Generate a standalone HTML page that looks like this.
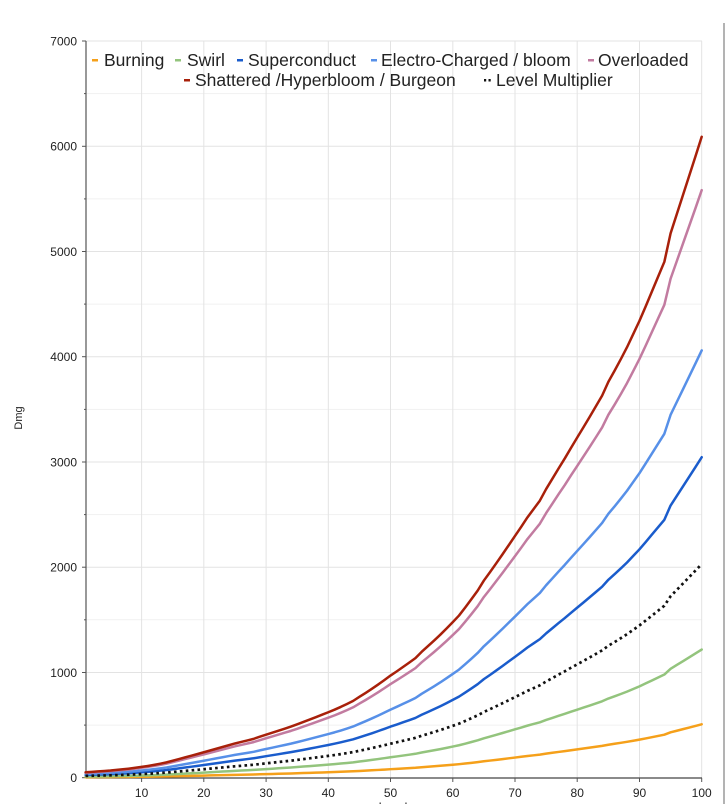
<!DOCTYPE html>
<html>
<head>
<meta charset="utf-8">
<style>
html,body{margin:0;padding:0;background:#fff;}
svg{display:block;}
text{font-family:"Liberation Sans",Arial,sans-serif;}
</style>
</head>
<body>
<svg width="725" height="804" viewBox="0 0 725 804" xmlns="http://www.w3.org/2000/svg">
<rect x="0" y="0" width="725" height="804" fill="#fff"/>
<line x1="724" y1="23" x2="724" y2="804" stroke="#9a9a9a" stroke-width="1.5"/>

<g stroke="#f1f1f1" stroke-width="1">
<line x1="86" x2="702" y1="725.1" y2="725.1"/>
<line x1="86" x2="702" y1="619.8" y2="619.8"/>
<line x1="86" x2="702" y1="514.6" y2="514.6"/>
<line x1="86" x2="702" y1="409.4" y2="409.4"/>
<line x1="86" x2="702" y1="304.1" y2="304.1"/>
<line x1="86" x2="702" y1="198.9" y2="198.9"/>
<line x1="86" x2="702" y1="93.6" y2="93.6"/>
</g>
<g stroke="#e3e3e3" stroke-width="1">
<line x1="86" x2="702" y1="672.5" y2="672.5"/>
<line x1="86" x2="702" y1="567.2" y2="567.2"/>
<line x1="86" x2="702" y1="462" y2="462"/>
<line x1="86" x2="702" y1="356.7" y2="356.7"/>
<line x1="86" x2="702" y1="251.5" y2="251.5"/>
<line x1="86" x2="702" y1="146.3" y2="146.3"/>
<line x1="86" x2="702" y1="41" y2="41"/>
</g>
<g stroke="#e3e3e3" stroke-width="1">
<line y1="41" y2="778" x1="141.6" x2="141.6"/>
<line y1="41" y2="778" x1="203.8" x2="203.8"/>
<line y1="41" y2="778" x1="266.1" x2="266.1"/>
<line y1="41" y2="778" x1="328.3" x2="328.3"/>
<line y1="41" y2="778" x1="390.5" x2="390.5"/>
<line y1="41" y2="778" x1="452.8" x2="452.8"/>
<line y1="41" y2="778" x1="515" x2="515"/>
<line y1="41" y2="778" x1="577.2" x2="577.2"/>
<line y1="41" y2="778" x1="639.5" x2="639.5"/>
<line y1="41" y2="778" x1="701.7" x2="701.7"/>
</g>

<line x1="86" y1="41" x2="86" y2="778" stroke="#555" stroke-width="1.2"/>
<line x1="86" y1="778" x2="702" y2="778" stroke="#444" stroke-width="1.2"/>
<g stroke="#555" stroke-width="1">
<line x1="82" x2="86" y1="777.7" y2="777.7"/>
<line x1="82" x2="86" y1="672.5" y2="672.5"/>
<line x1="82" x2="86" y1="567.2" y2="567.2"/>
<line x1="82" x2="86" y1="462" y2="462"/>
<line x1="82" x2="86" y1="356.7" y2="356.7"/>
<line x1="82" x2="86" y1="251.5" y2="251.5"/>
<line x1="82" x2="86" y1="146.3" y2="146.3"/>
<line x1="82" x2="86" y1="41" y2="41"/>
<line x1="84" x2="86" y1="725.1" y2="725.1"/>
<line x1="84" x2="86" y1="619.8" y2="619.8"/>
<line x1="84" x2="86" y1="514.6" y2="514.6"/>
<line x1="84" x2="86" y1="409.4" y2="409.4"/>
<line x1="84" x2="86" y1="304.1" y2="304.1"/>
<line x1="84" x2="86" y1="198.9" y2="198.9"/>
<line x1="84" x2="86" y1="93.6" y2="93.6"/>
</g>
<g stroke="#555" stroke-width="1">
<line y1="778" y2="782" x1="141.6" x2="141.6"/>
<line y1="778" y2="782" x1="203.8" x2="203.8"/>
<line y1="778" y2="782" x1="266.1" x2="266.1"/>
<line y1="778" y2="782" x1="328.3" x2="328.3"/>
<line y1="778" y2="782" x1="390.5" x2="390.5"/>
<line y1="778" y2="782" x1="452.8" x2="452.8"/>
<line y1="778" y2="782" x1="515" x2="515"/>
<line y1="778" y2="782" x1="577.2" x2="577.2"/>
<line y1="778" y2="782" x1="639.5" x2="639.5"/>
<line y1="778" y2="782" x1="701.7" x2="701.7"/>
</g>

<g font-size="12" fill="#222" text-anchor="end">
<text x="77" y="782">0</text>
<text x="77" y="677">1000</text>
<text x="77" y="571.5">2000</text>
<text x="77" y="466.5">3000</text>
<text x="77" y="361">4000</text>
<text x="77" y="256">5000</text>
<text x="77" y="150.5">6000</text>
<text x="77" y="45.5">7000</text>
</g>
<g font-size="12" fill="#222" text-anchor="middle">
<text x="141.6" y="797">10</text>
<text x="203.8" y="797">20</text>
<text x="266.1" y="797">30</text>
<text x="328.3" y="797">40</text>
<text x="390.5" y="797">50</text>
<text x="452.8" y="797">60</text>
<text x="515" y="797">70</text>
<text x="577.2" y="797">80</text>
<text x="639.5" y="797">90</text>
<text x="701.7" y="797">100</text>
</g>
<text x="393" y="811" font-size="12" fill="#222" text-anchor="middle">Level</text>
<text transform="translate(22,418) rotate(-90)" font-size="11" fill="#222" text-anchor="middle">Dmg</text>

<g fill="none" stroke-linejoin="round" stroke-linecap="round">
<polyline transform="translate(0,777.7) scale(1,-0.25)" vector-effect="non-scaling-stroke" stroke="#f5a01a" stroke-width="2.5" points="85.6,1.807 91.82,1.951 98.05,2.094 104.27,2.238 110.49,2.384 116.72,2.594 122.94,2.804 129.16,3.038 135.39,3.301 141.61,3.593 147.83,3.915 154.06,4.279 160.28,4.678 166.5,5.11 172.72,5.657 178.95,6.218 185.17,6.78 191.39,7.337 197.62,7.906 203.84,8.48 210.06,9.062 216.29,9.65 222.51,10.234 228.73,10.82 234.96,11.409 241.18,11.913 247.4,12.429 253.63,12.942 259.85,13.653 266.07,14.343 272.3,15.015 278.52,15.684 284.74,16.356 290.97,17.031 297.19,17.797 303.41,18.577 309.64,19.372 315.86,20.175 322.08,21.002 328.3,21.825 334.53,22.669 340.75,23.592 346.97,24.573 353.2,25.61 359.42,26.948 365.64,28.261 371.87,29.628 378.09,31.047 384.31,32.527 390.54,34.056 396.76,35.441 402.98,36.89 409.21,38.358 415.43,39.846 421.65,41.949 427.88,43.822 434.1,45.715 440.32,47.669 446.55,49.737 452.77,51.871 458.99,54.048 465.22,56.735 471.44,59.514 477.66,62.359 483.88,65.716 490.11,68.561 496.33,71.511 502.55,74.488 508.78,77.527 515,80.576 521.22,83.642 527.45,86.789 533.67,89.576 539.89,92.373 546.12,96.214 552.34,99.636 558.56,103.073 564.79,106.421 571.01,109.954 577.23,113.39 583.46,116.816 589.68,120.287 595.9,123.801 602.13,127.36 608.35,131.954 614.57,135.649 620.8,139.494 627.02,143.491 633.24,147.873 639.46,152.267 645.69,157.12 651.91,162.07 658.13,167.02 664.36,171.96 670.58,181.43 676.8,187.85 683.03,194.27 689.25,200.69 695.47,207.11 701.7,213.64"/>
<polyline transform="translate(0,777.7) scale(1,-0.6)" vector-effect="non-scaling-stroke" stroke="#93c47d" stroke-width="2.5" points="85.6,1.807 91.82,1.951 98.05,2.094 104.27,2.238 110.49,2.384 116.72,2.594 122.94,2.804 129.16,3.038 135.39,3.301 141.61,3.593 147.83,3.915 154.06,4.279 160.28,4.678 166.5,5.11 172.72,5.657 178.95,6.218 185.17,6.78 191.39,7.337 197.62,7.906 203.84,8.48 210.06,9.062 216.29,9.65 222.51,10.234 228.73,10.82 234.96,11.409 241.18,11.913 247.4,12.429 253.63,12.942 259.85,13.653 266.07,14.343 272.3,15.015 278.52,15.684 284.74,16.356 290.97,17.031 297.19,17.797 303.41,18.577 309.64,19.372 315.86,20.175 322.08,21.002 328.3,21.825 334.53,22.669 340.75,23.592 346.97,24.573 353.2,25.61 359.42,26.948 365.64,28.261 371.87,29.628 378.09,31.047 384.31,32.527 390.54,34.056 396.76,35.441 402.98,36.89 409.21,38.358 415.43,39.846 421.65,41.949 427.88,43.822 434.1,45.715 440.32,47.669 446.55,49.737 452.77,51.871 458.99,54.048 465.22,56.735 471.44,59.514 477.66,62.359 483.88,65.716 490.11,68.561 496.33,71.511 502.55,74.488 508.78,77.527 515,80.576 521.22,83.642 527.45,86.789 533.67,89.576 539.89,92.373 546.12,96.214 552.34,99.636 558.56,103.073 564.79,106.421 571.01,109.954 577.23,113.39 583.46,116.816 589.68,120.287 595.9,123.801 602.13,127.36 608.35,131.954 614.57,135.649 620.8,139.494 627.02,143.491 633.24,147.873 639.46,152.267 645.69,157.12 651.91,162.07 658.13,167.02 664.36,171.96 670.58,181.43 676.8,187.85 683.03,194.27 689.25,200.69 695.47,207.11 701.7,213.64"/>
<polyline transform="translate(0,777.7) scale(1,-1.5)" vector-effect="non-scaling-stroke" stroke="#1a5ccc" stroke-width="2.5" points="85.6,1.807 91.82,1.951 98.05,2.094 104.27,2.238 110.49,2.384 116.72,2.594 122.94,2.804 129.16,3.038 135.39,3.301 141.61,3.593 147.83,3.915 154.06,4.279 160.28,4.678 166.5,5.11 172.72,5.657 178.95,6.218 185.17,6.78 191.39,7.337 197.62,7.906 203.84,8.48 210.06,9.062 216.29,9.65 222.51,10.234 228.73,10.82 234.96,11.409 241.18,11.913 247.4,12.429 253.63,12.942 259.85,13.653 266.07,14.343 272.3,15.015 278.52,15.684 284.74,16.356 290.97,17.031 297.19,17.797 303.41,18.577 309.64,19.372 315.86,20.175 322.08,21.002 328.3,21.825 334.53,22.669 340.75,23.592 346.97,24.573 353.2,25.61 359.42,26.948 365.64,28.261 371.87,29.628 378.09,31.047 384.31,32.527 390.54,34.056 396.76,35.441 402.98,36.89 409.21,38.358 415.43,39.846 421.65,41.949 427.88,43.822 434.1,45.715 440.32,47.669 446.55,49.737 452.77,51.871 458.99,54.048 465.22,56.735 471.44,59.514 477.66,62.359 483.88,65.716 490.11,68.561 496.33,71.511 502.55,74.488 508.78,77.527 515,80.576 521.22,83.642 527.45,86.789 533.67,89.576 539.89,92.373 546.12,96.214 552.34,99.636 558.56,103.073 564.79,106.421 571.01,109.954 577.23,113.39 583.46,116.816 589.68,120.287 595.9,123.801 602.13,127.36 608.35,131.954 614.57,135.649 620.8,139.494 627.02,143.491 633.24,147.873 639.46,152.267 645.69,157.12 651.91,162.07 658.13,167.02 664.36,171.96 670.58,181.43 676.8,187.85 683.03,194.27 689.25,200.69 695.47,207.11 701.7,213.64"/>
<polyline transform="translate(0,777.7) scale(1,-2)" vector-effect="non-scaling-stroke" stroke="#5790e8" stroke-width="2.5" points="85.6,1.807 91.82,1.951 98.05,2.094 104.27,2.238 110.49,2.384 116.72,2.594 122.94,2.804 129.16,3.038 135.39,3.301 141.61,3.593 147.83,3.915 154.06,4.279 160.28,4.678 166.5,5.11 172.72,5.657 178.95,6.218 185.17,6.78 191.39,7.337 197.62,7.906 203.84,8.48 210.06,9.062 216.29,9.65 222.51,10.234 228.73,10.82 234.96,11.409 241.18,11.913 247.4,12.429 253.63,12.942 259.85,13.653 266.07,14.343 272.3,15.015 278.52,15.684 284.74,16.356 290.97,17.031 297.19,17.797 303.41,18.577 309.64,19.372 315.86,20.175 322.08,21.002 328.3,21.825 334.53,22.669 340.75,23.592 346.97,24.573 353.2,25.61 359.42,26.948 365.64,28.261 371.87,29.628 378.09,31.047 384.31,32.527 390.54,34.056 396.76,35.441 402.98,36.89 409.21,38.358 415.43,39.846 421.65,41.949 427.88,43.822 434.1,45.715 440.32,47.669 446.55,49.737 452.77,51.871 458.99,54.048 465.22,56.735 471.44,59.514 477.66,62.359 483.88,65.716 490.11,68.561 496.33,71.511 502.55,74.488 508.78,77.527 515,80.576 521.22,83.642 527.45,86.789 533.67,89.576 539.89,92.373 546.12,96.214 552.34,99.636 558.56,103.073 564.79,106.421 571.01,109.954 577.23,113.39 583.46,116.816 589.68,120.287 595.9,123.801 602.13,127.36 608.35,131.954 614.57,135.649 620.8,139.494 627.02,143.491 633.24,147.873 639.46,152.267 645.69,157.12 651.91,162.07 658.13,167.02 664.36,171.96 670.58,181.43 676.8,187.85 683.03,194.27 689.25,200.69 695.47,207.11 701.7,213.64"/>
<polyline transform="translate(0,777.7) scale(1,-2.75)" vector-effect="non-scaling-stroke" stroke="#c27ba0" stroke-width="2.5" points="85.6,1.807 91.82,1.951 98.05,2.094 104.27,2.238 110.49,2.384 116.72,2.594 122.94,2.804 129.16,3.038 135.39,3.301 141.61,3.593 147.83,3.915 154.06,4.279 160.28,4.678 166.5,5.11 172.72,5.657 178.95,6.218 185.17,6.78 191.39,7.337 197.62,7.906 203.84,8.48 210.06,9.062 216.29,9.65 222.51,10.234 228.73,10.82 234.96,11.409 241.18,11.913 247.4,12.429 253.63,12.942 259.85,13.653 266.07,14.343 272.3,15.015 278.52,15.684 284.74,16.356 290.97,17.031 297.19,17.797 303.41,18.577 309.64,19.372 315.86,20.175 322.08,21.002 328.3,21.825 334.53,22.669 340.75,23.592 346.97,24.573 353.2,25.61 359.42,26.948 365.64,28.261 371.87,29.628 378.09,31.047 384.31,32.527 390.54,34.056 396.76,35.441 402.98,36.89 409.21,38.358 415.43,39.846 421.65,41.949 427.88,43.822 434.1,45.715 440.32,47.669 446.55,49.737 452.77,51.871 458.99,54.048 465.22,56.735 471.44,59.514 477.66,62.359 483.88,65.716 490.11,68.561 496.33,71.511 502.55,74.488 508.78,77.527 515,80.576 521.22,83.642 527.45,86.789 533.67,89.576 539.89,92.373 546.12,96.214 552.34,99.636 558.56,103.073 564.79,106.421 571.01,109.954 577.23,113.39 583.46,116.816 589.68,120.287 595.9,123.801 602.13,127.36 608.35,131.954 614.57,135.649 620.8,139.494 627.02,143.491 633.24,147.873 639.46,152.267 645.69,157.12 651.91,162.07 658.13,167.02 664.36,171.96 670.58,181.43 676.8,187.85 683.03,194.27 689.25,200.69 695.47,207.11 701.7,213.64"/>
<polyline transform="translate(0,777.7) scale(1,-3)" vector-effect="non-scaling-stroke" stroke="#a8200a" stroke-width="2.5" points="85.6,1.807 91.82,1.951 98.05,2.094 104.27,2.238 110.49,2.384 116.72,2.594 122.94,2.804 129.16,3.038 135.39,3.301 141.61,3.593 147.83,3.915 154.06,4.279 160.28,4.678 166.5,5.11 172.72,5.657 178.95,6.218 185.17,6.78 191.39,7.337 197.62,7.906 203.84,8.48 210.06,9.062 216.29,9.65 222.51,10.234 228.73,10.82 234.96,11.409 241.18,11.913 247.4,12.429 253.63,12.942 259.85,13.653 266.07,14.343 272.3,15.015 278.52,15.684 284.74,16.356 290.97,17.031 297.19,17.797 303.41,18.577 309.64,19.372 315.86,20.175 322.08,21.002 328.3,21.825 334.53,22.669 340.75,23.592 346.97,24.573 353.2,25.61 359.42,26.948 365.64,28.261 371.87,29.628 378.09,31.047 384.31,32.527 390.54,34.056 396.76,35.441 402.98,36.89 409.21,38.358 415.43,39.846 421.65,41.949 427.88,43.822 434.1,45.715 440.32,47.669 446.55,49.737 452.77,51.871 458.99,54.048 465.22,56.735 471.44,59.514 477.66,62.359 483.88,65.716 490.11,68.561 496.33,71.511 502.55,74.488 508.78,77.527 515,80.576 521.22,83.642 527.45,86.789 533.67,89.576 539.89,92.373 546.12,96.214 552.34,99.636 558.56,103.073 564.79,106.421 571.01,109.954 577.23,113.39 583.46,116.816 589.68,120.287 595.9,123.801 602.13,127.36 608.35,131.954 614.57,135.649 620.8,139.494 627.02,143.491 633.24,147.873 639.46,152.267 645.69,157.12 651.91,162.07 658.13,167.02 664.36,171.96 670.58,181.43 676.8,187.85 683.03,194.27 689.25,200.69 695.47,207.11 701.7,213.64"/>
<polyline transform="translate(0,777.7) scale(1,-1)" stroke="#111" stroke-width="2.7" stroke-linecap="butt" stroke-dasharray="2.6 3.3" points="85.6,1.807 91.82,1.951 98.05,2.094 104.27,2.238 110.49,2.384 116.72,2.594 122.94,2.804 129.16,3.038 135.39,3.301 141.61,3.593 147.83,3.915 154.06,4.279 160.28,4.678 166.5,5.11 172.72,5.657 178.95,6.218 185.17,6.78 191.39,7.337 197.62,7.906 203.84,8.48 210.06,9.062 216.29,9.65 222.51,10.234 228.73,10.82 234.96,11.409 241.18,11.913 247.4,12.429 253.63,12.942 259.85,13.653 266.07,14.343 272.3,15.015 278.52,15.684 284.74,16.356 290.97,17.031 297.19,17.797 303.41,18.577 309.64,19.372 315.86,20.175 322.08,21.002 328.3,21.825 334.53,22.669 340.75,23.592 346.97,24.573 353.2,25.61 359.42,26.948 365.64,28.261 371.87,29.628 378.09,31.047 384.31,32.527 390.54,34.056 396.76,35.441 402.98,36.89 409.21,38.358 415.43,39.846 421.65,41.949 427.88,43.822 434.1,45.715 440.32,47.669 446.55,49.737 452.77,51.871 458.99,54.048 465.22,56.735 471.44,59.514 477.66,62.359 483.88,65.716 490.11,68.561 496.33,71.511 502.55,74.488 508.78,77.527 515,80.576 521.22,83.642 527.45,86.789 533.67,89.576 539.89,92.373 546.12,96.214 552.34,99.636 558.56,103.073 564.79,106.421 571.01,109.954 577.23,113.39 583.46,116.816 589.68,120.287 595.9,123.801 602.13,127.36 608.35,131.954 614.57,135.649 620.8,139.494 627.02,143.491 633.24,147.873 639.46,152.267 645.69,157.12 651.91,162.07 658.13,167.02 664.36,171.96 670.58,181.43 676.8,187.85 683.03,194.27 689.25,200.69 695.47,207.11 701.7,213.64"/>
</g>

<g font-size="17.5" fill="#222">
  <rect x="92" y="59" width="6" height="2.5" fill="#f5a01a"/>
  <text x="104" y="66">Burning</text>
  <rect x="175" y="59" width="6" height="2.5" fill="#93c47d"/>
  <text x="187" y="66">Swirl</text>
  <rect x="237" y="59" width="6" height="2.5" fill="#1a5ccc"/>
  <text x="248" y="66">Superconduct</text>
  <rect x="371" y="59" width="6" height="2.5" fill="#5790e8"/>
  <text x="381" y="66">Electro-Charged / bloom</text>
  <rect x="588" y="59" width="6" height="2.5" fill="#c27ba0"/>
  <text x="598" y="66">Overloaded</text>
  <rect x="184" y="79" width="6" height="2.5" fill="#a8200a"/>
  <text x="195" y="86">Shattered /Hyperbloom / Burgeon</text>
  <rect x="484" y="79" width="2.2" height="2.5" fill="#111"/>
  <rect x="488.5" y="79" width="2.2" height="2.5" fill="#111"/>
  <text x="496" y="86">Level Multiplier</text>
</g>
</svg>
</body>
</html>
